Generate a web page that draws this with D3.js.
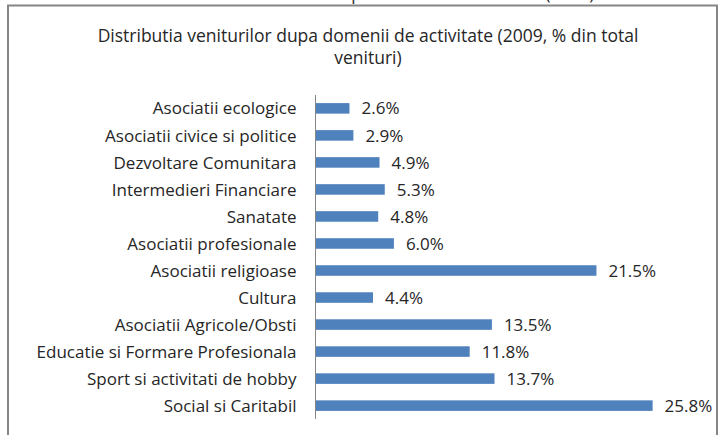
<!DOCTYPE html>
<html lang="en">
<head>
  <meta charset="UTF-8">
  <script src="https://d3js.org/d3.v7.min.js"></script>
  <style>
    body { margin: 0; background: white; }
    text { font-family: 'Open Sans', 'Liberation Sans', sans-serif; fill: #262626; }
  </style>
</head>
<body>
  <svg id="chart" width="723" height="435"></svg>
  <script>
    const categories = ['Asociatii ecologice', 'Asociatii civice si politice', 'Dezvoltare Comunitara',
      'Intermedieri Financiare', 'Sanatate', 'Asociatii profesionale', 'Asociatii religioase', 'Cultura',
      'Asociatii Agricole/Obsti', 'Educatie si Formare Profesionala', 'Sport si activitati de hobby',
      'Social si Caritabil'];
    const values = [2.6, 2.9, 4.9, 5.3, 4.8, 6.0, 21.5, 4.4, 13.5, 11.8, 13.7, 25.8];
    const titleLines = ['Distributia veniturilor dupa domenii de activitate (2009, % din total', 'venituri)'];

    const fs = "17px";
    const svg = d3.select("#chart");

    // caption of the page above, mostly cut off
    svg.append("text")
      .attr("x", 65).attr("y", 0)
      .style("font-size", fs)
      .text("Grafic 9. Distributia veniturilor ONG pe domenii de activitate (2009)");

    // chart border
    svg.append("rect")
      .attr("x", 8).attr("y", 5.5)
      .attr("width", 709).attr("height", 440)
      .attr("fill", "white")
      .attr("stroke", "#868686")
      .attr("stroke-width", 2);

    titleLines.forEach((t, i) => {
      svg.append("text")
        .attr("x", 368).attr("y", 42 + i * 22)
        .attr("text-anchor", "middle")
        .style("font-size", "17.5px")
        .text(t);
    });

    const axisX = 315.5;
    const y = d3.scaleBand().domain(categories).range([95, 419]).paddingInner(0.61).paddingOuter(0.3);
    const x = d3.scaleLinear().domain([0, 30]).range([0, 392]);

    const g = svg.append("g");

    g.selectAll("rect.bar").data(values)
      .join("rect")
      .attr("class", "bar")
      .attr("x", axisX)
      .attr("y", (d, i) => y(categories[i]))
      .attr("width", d => x(d))
      .attr("height", y.bandwidth())
      .attr("fill", "#4f81bd");

    g.selectAll("text.val").data(values)
      .join("text")
      .attr("class", "val")
      .attr("x", d => axisX + x(d) + 12)
      .attr("y", (d, i) => y(categories[i]) + y.bandwidth() / 2)
      .attr("dy", "0.36em")
      .style("font-size", fs)
      .text(d => d.toFixed(1) + "%");

    g.selectAll("text.cat").data(categories)
      .join("text")
      .attr("class", "cat")
      .attr("x", axisX - 19)
      .attr("y", d => y(d) + y.bandwidth() / 2)
      .attr("dy", "0.36em")
      .attr("text-anchor", "end")
      .style("font-size", fs)
      .text(d => d);

    g.append("line")
      .attr("x1", axisX).attr("x2", axisX)
      .attr("y1", 95).attr("y2", 419)
      .attr("stroke", "#868686")
      .attr("stroke-width", 1);
  </script>
</body>
</html>
